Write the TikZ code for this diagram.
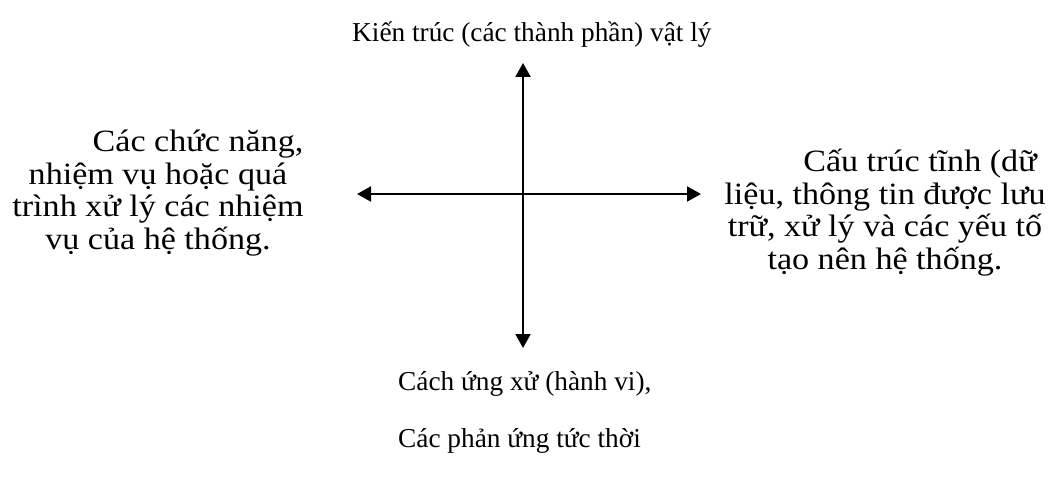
\documentclass[tikz,border=0pt]{standalone}
\usepackage{fontspec}
\setmainfont{Liberation Serif}
\newfontfamily\sidefont[FakeStretch=1.1]{Liberation Serif}
\usetikzlibrary{arrows.meta}
\tikzset{
  lbl/.style={font=\fontsize{27.3}{32.5}\selectfont, inner sep=0pt, align=center},
  sidelbl/.style={font=\sidefont\fontsize{31}{32.5}\selectfont, inner sep=0pt, align=center},
  axis/.style={line width=2pt, {Triangle[length=14pt,width=15pt]}-{Triangle[length=14pt,width=15pt]}}
}
\begin{document}
\begin{tikzpicture}[x=1pt,y=-1pt]
\useasboundingbox (0,0) rectangle (1056,481);
\coordinate (c) at (523,194);
\coordinate (n) at (523,63);
\coordinate (s) at (523,348);
\coordinate (w) at (357,194);
\coordinate (e) at (701,194);
\draw[axis] (s) -- (n);
\draw[axis] (w) -- (e);
\node[lbl, anchor=base west] (top) at (352,42) {Kiến trúc (các thành phần) vật lý};
\node[sidelbl, anchor=base] (left) at (158,249) {\hspace*{80pt}Các chức năng,\\nhiệm vụ hoặc quá\\trình xử lý các nhiệm\\vụ của hệ thống.};
\node[sidelbl, anchor=base] (right) at (885,269) {\hspace*{70pt}Cấu trúc tĩnh (dữ\\liệu, thông tin được lưu\\trữ, xử lý và các yếu tố\\tạo nên hệ thống.};
\node[lbl, font=\fontsize{27.3}{57}\selectfont, align=left, anchor=base west] (bottom) at (398,447) {Cách ứng xử (hành vi),\\Các phản ứng tức thời};
\end{tikzpicture}
\end{document}
